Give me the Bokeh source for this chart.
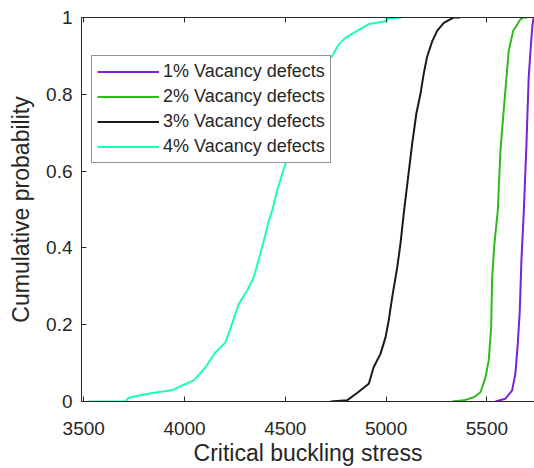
from bokeh.plotting import figure
from bokeh.models import Range1d, FixedTicker, LinearAxis, Legend, LegendItem
from bokeh.embed import file_html
from bokeh.resources import INLINE

# ---- data ----
x_ticks = [3500, 4000, 4500, 5000, 5500]
y_ticks = [0, 0.2, 0.4, 0.6, 0.8, 1]
y_tick_labels = ["0", "0.2", "0.4", "0.6", "0.8", "1"]

labels = ["1% Vacancy defects", "2% Vacancy defects",
          "3% Vacancy defects", "4% Vacancy defects"]
colors = ["#7A22D4", "#2FBA1C", "#1A1A1A", "#19FFB4"]

x1 = [5542, 5591, 5625, 5641, 5653, 5663, 5671, 5683, 5696, 5707, 5716, 5726, 5732]
y1 = [0, 0.007, 0.029, 0.072, 0.15, 0.236, 0.366, 0.496, 0.669, 0.842, 0.912, 0.982, 1.0]

x2 = [5327, 5385, 5435, 5468, 5493, 5509, 5521, 5526, 5537, 5554, 5567, 5583,
      5597, 5608, 5630, 5666, 5683, 5700]
y2 = [0, 0.003, 0.011, 0.024, 0.063, 0.107, 0.193, 0.323, 0.41, 0.497, 0.653, 0.757,
      0.843, 0.913, 0.965, 0.995, 1.0, 1.0]

x3 = [4724, 4806, 4856, 4914, 4938, 4972, 4997, 5013, 5030, 5055, 5071, 5089,
      5129, 5150, 5170, 5187, 5203, 5228, 5253, 5286, 5335, 5368]
y3 = [0, 0.003, 0.022, 0.046, 0.089, 0.124, 0.167, 0.211, 0.271, 0.349, 0.41, 0.497,
      0.67, 0.75, 0.80, 0.855, 0.897, 0.937, 0.965, 0.986, 1.0, 1.0]

x4 = [3525, 3707, 3723, 3781, 3864, 3938, 3988, 4046, 4104, 4153, 4203, 4236,
      4269, 4311, 4343, 4385, 4418, 4435, 4459, 4484, 4500, 4550, 4600, 4650,
      4700, 4732, 4765, 4798, 4839, 4914, 4997, 5013, 5079]
y4 = [0, 0, 0.01, 0.016, 0.024, 0.029, 0.042, 0.055, 0.089, 0.128, 0.154, 0.202,
      0.254, 0.289, 0.323, 0.401, 0.471, 0.497, 0.549, 0.592, 0.618, 0.70, 0.78, 0.84,
      0.88, 0.9, 0.93, 0.947, 0.96, 0.983, 0.99, 0.998, 1.0]

series_x = [x1, x2, x3, x4]
series_y = [y1, y2, y3, y4]

FONT = "Liberation Sans"
TXT = "#262626"

p = figure(width=534, height=468, output_backend="svg", toolbar_location=None,
           x_range=Range1d(3489, 5736), y_range=Range1d(0, 1),
           min_border_left=81, min_border_right=0, min_border_top=17,
           min_border_bottom=67)
p.outline_line_color = None
p.grid.visible = False
p.background_fill_color = "white"
p.border_fill_color = "white"

for ax in (p.xaxis[0], p.yaxis[0]):
    ax.major_tick_in = 5
    ax.major_tick_out = 0
    ax.minor_tick_line_color = None
    ax.axis_line_color = TXT
    ax.major_tick_line_color = TXT
    ax.major_label_text_font = FONT
    ax.major_label_text_color = TXT
    ax.major_label_text_font_size = "19px"
    ax.axis_label_text_font = FONT
    ax.axis_label_text_font_size = "23px"
    ax.axis_label_text_font_style = "normal"
    ax.axis_label_text_color = TXT

p.xaxis.ticker = FixedTicker(ticks=x_ticks)
p.xaxis.axis_label = "Critical buckling stress"
p.xaxis.major_label_standoff = 20
p.xaxis.axis_label_standoff = 2

p.yaxis.ticker = FixedTicker(ticks=y_ticks)
p.yaxis.major_label_overrides = {t: s for t, s in zip(y_ticks, y_tick_labels)}
p.yaxis.axis_label = "Cumulative probability"
p.yaxis.major_label_standoff = 9
p.yaxis.axis_label_standoff = 9

top = LinearAxis(ticker=FixedTicker(ticks=x_ticks), major_tick_in=5, major_tick_out=0,
                 minor_tick_line_color=None, major_label_text_font_size="10px",
                 major_label_text_color=None,
                 major_label_standoff=0, axis_line_color=TXT, major_tick_line_color=TXT)
p.add_layout(top, "above")

items = []
for xs, ys, c, lab in zip(series_x, series_y, colors, labels):
    r = p.line(xs, ys, line_color=c, line_width=2)
    items.append(LegendItem(label=lab, renderers=[r]))

legend = Legend(items=items, location=(10, 238), padding=5, spacing=4,
                glyph_width=62, glyph_height=21, label_height=21, label_standoff=4,
                label_text_font=FONT, label_text_font_size="18px", label_text_color=TXT,
                border_line_color=TXT, border_line_width=1, background_fill_color="white",
                background_fill_alpha=1, margin=0)
p.add_layout(legend)

open("out.html", "w").write(file_html(p, INLINE))
